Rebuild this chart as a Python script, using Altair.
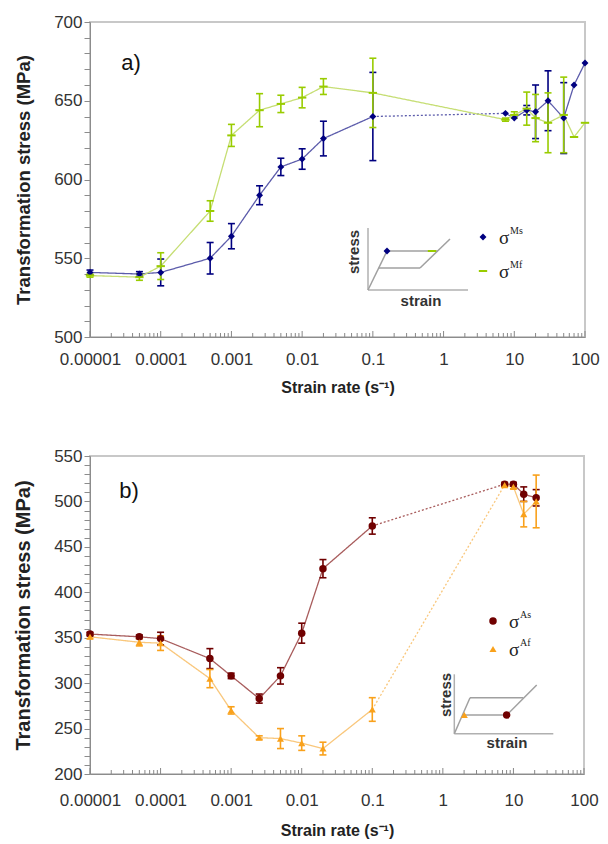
import altair as alt
import pandas as pd

# ---------------- data: panel a (forward transformation) ----------------
rate_a = [1e-5, 5e-5, 1e-4, 5e-4, 1e-3, 2.5e-3, 5e-3, 1e-2, 2e-2, 0.1,
          7.5, 10, 15, 20, 30, 50, 70, 100]
ms_stress = [541, 540, 541, 550, 564, 590, 608, 613, 626, 640,
             642, 639, 644, 643, 650, 639, 660, 674]
ms_err = [1.5, 1.5, 8.5, 10, 8, 6, 5.5, 6.5, 11, 28,
          0, 0, 3, 17, 19, 22.5, 0, 0]
mf_stress = [539, 538, 545, 580, 628, 644, 648, 652, 659, 655,
             638, 641, 645, 639, 636, 641, 627, 636]
mf_err = [1, 2, 8.5, 6.5, 7, 10.5, 5.5, 6.5, 5, 22,
          1, 2, 10.5, 15, 19, 24, 0, 0]

# ---------------- data: panel b (reverse transformation) ----------------
rate_b = [1e-5, 5e-5, 1e-4, 5e-4, 1e-3, 2.5e-3, 5e-3, 1e-2, 2e-2, 0.1,
          7.5, 10, 14, 21]
as_stress = [354, 351, 349, 327, 308, 283, 308, 355, 426, 473,
             519, 519, 508, 504]
as_err = [2, 2, 7, 11, 3, 5, 9, 11, 10, 9, 2, 2, 8, 9]
af_stress = [351, 345, 344, 305, 270, 240, 239, 234, 228, 271,
             518, 516, 486, 500]
af_err = [2, 4, 8, 10, 4, 2, 11, 8, 7, 13, 2, 2, 14, 29]

# axis tick labels
decades = [1e-5, 1e-4, 1e-3, 1e-2, 1e-1, 1, 10, 100]
minor_mult = [2, 3, 4, 5, 6, 7, 8, 9]

# schematic stress-strain insets (arbitrary strain / stress units)
inset_a_x = [0, 0, 0, 1.9, 5.2, 1.07]
inset_a_y = [0, 0, 0, 3.9, 2.2, 2.2]
inset_a_x2 = [0, 10, 1.9, 7.0, 8.2, 5.2]
inset_a_y2 = [6.2, 0, 3.9, 3.9, 5.1, 2.2]
inset_a_kind = ["axis", "axis", "loop", "loop", "loop", "loop"]
inset_a_start = [1.9, 3.9]   # sigma Ms marker
inset_a_end = [6.4, 3.9]     # sigma Mf marker

inset_b_x = [0, 0, 0, 1.57, 5.24, 0.82]
inset_b_y = [0, 0, 0, 3.6, 1.87, 1.87]
inset_b_x2 = [0, 9.9, 1.57, 6.9, 8.24, 5.24]
inset_b_y2 = [5.94, 0, 3.6, 3.6, 4.87, 1.87]
inset_b_kind = ["axis", "axis", "loop", "loop", "loop", "loop"]
inset_b_start = [5.24, 1.87]  # sigma As marker
inset_b_end = [1.0, 1.87]     # sigma Af marker

# ---------------- styling ----------------
FONT = "Liberation Sans"
SERIF = "Liberation Serif"
NAVY, NAVY_LINE = "#000080", "#5c5cab"
GREEN, GREEN_LINE = "#99cc00", "#c6de74"
RED, RED_LINE = "#700000", "#a85c5c"
ORANGE, ORANGE_LINE = "#f9a11b", "#f9c77c"
GRAY_TXT = "#333333"


def line_df(rates, vals, dotted_after):
    rows = []
    for i, (r, v) in enumerate(zip(rates, vals)):
        if dotted_after is None:
            rows.append(dict(rate=r, stress=v, seg="s1", style="solid"))
            continue
        k = dotted_after
        if i <= k:
            rows.append(dict(rate=r, stress=v, seg="s1", style="solid"))
        if i >= k + 1:
            rows.append(dict(rate=r, stress=v, seg="s2", style="solid"))
        if i in (k, k + 1):
            rows.append(dict(rate=r, stress=v, seg="d", style="dotted"))
    return pd.DataFrame(rows)


def panel(W, H, ydom, ystep, rates, series, label, legend, inset, ytitle_size,
          xlab_pad, xtitle_pad):
    xs = alt.Scale(type="log", domain=[1e-5, 100], nice=False)
    ys = alt.Scale(domain=ydom, nice=False, zero=False)
    xaxis = alt.Axis(values=decades, format="~f", ticks=False, grid=False,
                     title="Strain rate (s\u207b\u00b9)", labelPadding=xlab_pad,
                     titlePadding=xtitle_pad, labelFlush=False)
    yaxis = alt.Axis(values=list(range(ydom[0], ydom[1] + 1, 10)),
                     labelExpr=f"datum.value % {ystep} == 0 ? datum.label : ''",
                     grid=False, tickSize=6, title="Transformation stress (MPa)",
                     titleFontSize=ytitle_size, titlePadding=20)

    def X(f):
        return alt.X(f, type="quantitative", scale=xs, axis=xaxis)

    def Y(f):
        return alt.Y(f, type="quantitative", scale=ys, axis=yaxis)

    layers = []
    # minor log ticks along the bottom (inside the plot)
    tdf = pd.DataFrame({"t": [m * d for d in decades[:-1] for m in minor_mult]})
    layers.append(alt.Chart(tdf).mark_rule(color="#888888", strokeWidth=1).encode(
        x=X("t"), y=alt.value(H - 4), y2=alt.value(H)))
    ddf = pd.DataFrame({"t": decades})
    layers.append(alt.Chart(ddf).mark_rule(color="#888888", strokeWidth=1).encode(
        x=X("t"), y=alt.value(H - 6), y2=alt.value(H)))

    for vals, errs, mcol, lcol, pmark, dotted in series:
        ldf = line_df(rates, vals, dotted)
        layers.append(alt.Chart(ldf).mark_line(color=lcol, strokeWidth=1.3).encode(
            x=X("rate"), y=Y("stress"), detail="seg:N",
            strokeDash=alt.StrokeDash("style:N", legend=None,
                                      scale=alt.Scale(domain=["solid", "dotted"],
                                                      range=[[1, 0], [2, 2]]))))
    for vals, errs, mcol, lcol, pmark, dotted in series:
        edf = pd.DataFrame({"rate": rates, "lo": [v - e for v, e in zip(vals, errs)],
                            "hi": [v + e for v, e in zip(vals, errs)], "e": errs})
        edf = edf[edf.e > 0]
        layers.append(alt.Chart(edf).mark_rule(color=mcol, strokeWidth=1.6).encode(
            x=X("rate"), y=Y("lo"), y2="hi:Q"))
        cdf = pd.DataFrame({"rate": list(edf.rate) * 2, "v": list(edf.lo) + list(edf.hi)})
        layers.append(alt.Chart(cdf).mark_tick(orient="horizontal", size=7, thickness=1.6,
                                                color=mcol, opacity=1).encode(
            x=X("rate"), y=Y("v")))
    for vals, errs, mcol, lcol, pmark, dotted in series:
        pdf = pd.DataFrame({"rate": rates, "stress": vals})
        layers.append(alt.Chart(pdf).mark_point(opacity=1, color=mcol, **pmark).encode(
            x=X("rate"), y=Y("stress")))

    main = alt.layer(*layers)

    # inset schematic with its own scales
    (ix, iy, ix2, iy2, kind, m1, m2, pm1, pm2, c1, c2, xr, yr, xdom, ydom_i, stress_pos, strain_pos) = inset
    ixs = alt.Scale(domain=xdom, range=xr, nice=False, zero=False)
    iys = alt.Scale(domain=ydom_i, range=yr, nice=False, zero=False)
    sdf = pd.DataFrame({"x": ix, "y": iy, "x2": ix2, "y2": iy2, "kind": kind})
    ins = [alt.Chart(sdf).mark_rule(strokeWidth=1.5).encode(
        x=alt.X("x:Q", scale=ixs, axis=None), y=alt.Y("y:Q", scale=iys, axis=None),
        x2="x2:Q", y2="y2:Q",
        color=alt.Color("kind:N", legend=None,
                        scale=alt.Scale(domain=["axis", "loop"], range=["#b0b0b0", "#a0a0a0"])))]
    for m, pm, c in ((m1, pm1, c1), (m2, pm2, c2)):
        mdf = pd.DataFrame({"x": [m[0]], "y": [m[1]]})
        ins.append(alt.Chart(mdf).mark_point(opacity=1, color=c, **pm).encode(
            x=alt.X("x:Q", scale=ixs, axis=None), y=alt.Y("y:Q", scale=iys, axis=None)))
    inset_layer = alt.layer(*ins)

    one = pd.DataFrame({"k": [0]})
    ann = []
    ann.append(alt.Chart(one).mark_text(text=label[0], font=FONT, fontSize=22, color="#111111",
                                        align="center", baseline="middle").encode(
        x=alt.value(label[1]), y=alt.value(label[2])))
    ann.append(alt.Chart(one).mark_text(text="stress", font=FONT, fontSize=15, fontWeight="bold",
                                        color=GRAY_TXT, angle=270, align="center",
                                        baseline="middle").encode(
        x=alt.value(stress_pos[0]), y=alt.value(stress_pos[1])))
    ann.append(alt.Chart(one).mark_text(text="strain", font=FONT, fontSize=15, fontWeight="bold",
                                        color=GRAY_TXT, align="center", baseline="middle").encode(
        x=alt.value(strain_pos[0]), y=alt.value(strain_pos[1])))
    for (sx, sy, pm, c, sup) in legend:
        ann.append(alt.Chart(one).mark_point(opacity=1, color=c, **pm).encode(
            x=alt.value(sx), y=alt.value(sy)))
        ann.append(alt.Chart(one).mark_text(text="\u03c3", font=SERIF, fontSize=19, color="#222222",
                                            align="left", baseline="middle").encode(
            x=alt.value(sx + 16), y=alt.value(sy + 1)))
        ann.append(alt.Chart(one).mark_text(text=sup, font=SERIF, fontSize=10, color="#222222",
                                            align="left", baseline="middle").encode(
            x=alt.value(sx + 27), y=alt.value(sy - 6)))

    return alt.layer(main, inset_layer, *ann).resolve_scale(
        x="independent", y="independent", color="independent").properties(width=W, height=H)


diamond = dict(shape="diamond", filled=True, size=48)
dash = dict(shape="stroke", filled=False, size=70, strokeWidth=2)
circle = dict(shape="circle", filled=True, size=56)
tri = dict(shape="triangle-up", filled=True, size=50)

WA, HA = 495, 315
WB, HB = 494, 318

pa = panel(
    WA, HA, [500, 700], 50, rate_a,
    [(ms_stress, ms_err, NAVY, NAVY_LINE, diamond, 9),
     (mf_stress, mf_err, GREEN, GREEN_LINE, dash, None)],
    ("a)", 41, 41),
    [(393, 215, diamond, NAVY, "Ms"), (393, 249, dash, GREEN, "Mf")],
    (inset_a_x, inset_a_y, inset_a_x2, inset_a_y2, inset_a_kind,
     inset_a_start, inset_a_end, diamond, dash, NAVY, GREEN,
     [278, 378], [268, 206], [0, 10], [0, 6.2], (264, 230), (331, 279)),
    18.5, 14, 12)

pb = panel(
    WB, HB, [200, 550], 50, rate_b,
    [(as_stress, as_err, RED, RED_LINE, circle, 9),
     (af_stress, af_err, ORANGE, ORANGE_LINE, tri, 9)],
    ("b)", 39, 35),
    [(403, 165, circle, RED, "As"), (403, 193, tri, ORANGE, "Af")],
    (inset_b_x, inset_b_y, inset_b_x2, inset_b_y2, inset_b_kind,
     inset_b_start, inset_b_end, circle, tri, RED, ORANGE,
     [364.3, 464.3], [277.7, 217.7], [0, 10], [0, 6], (356, 239), (417, 287)),
    20, 18, 14)

chart = alt.vconcat(pa, pb, spacing=50).properties(
    padding={"left": 12, "top": 12, "right": 5, "bottom": 0}
).configure_view(
    stroke="#c8c8c8", strokeWidth=2
).configure_axis(
    labelFont=FONT, labelFontSize=17, labelColor=GRAY_TXT,
    titleFont=FONT, titleFontSize=16, titleFontWeight="bold", titleColor="#222222",
    domainColor="#8c8c8c", tickColor="#8c8c8c", domainWidth=1
)

chart.save("out.html", embed_options={"renderer": "svg", "actions": False})
